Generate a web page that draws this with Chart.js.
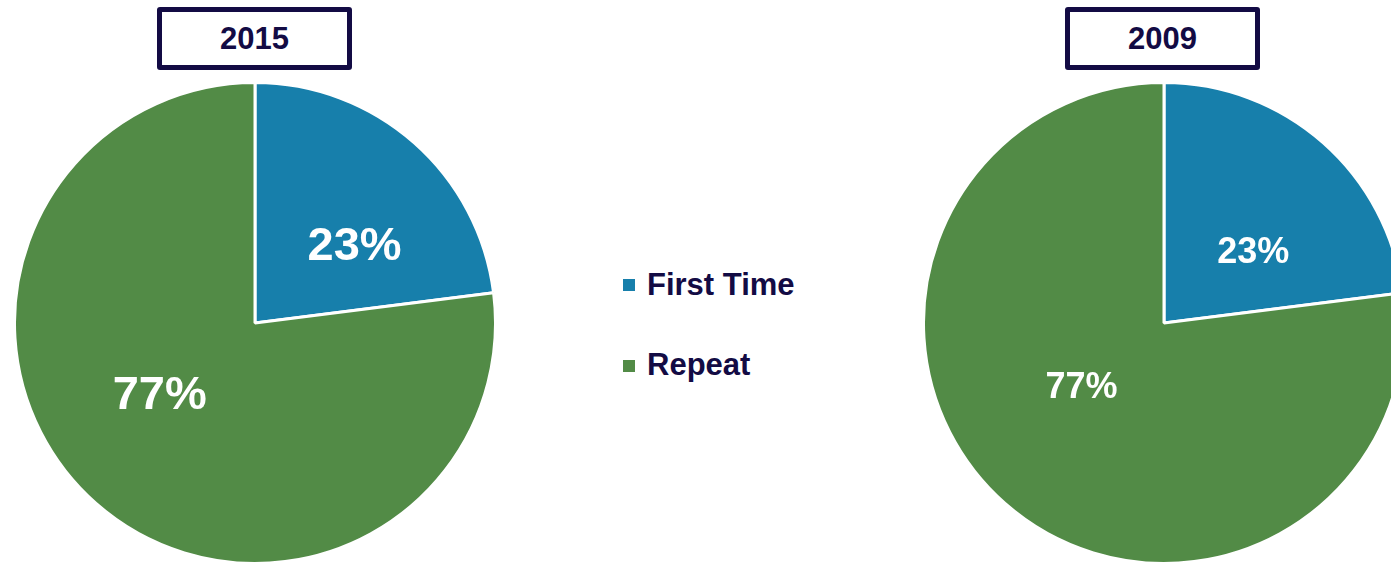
<!DOCTYPE html>
<html>
<head>
<meta charset="utf-8">
<script src="https://cdn.jsdelivr.net/npm/chart.js@4/dist/chart.umd.min.js"></script>
<style>
  html, body { margin: 0; padding: 0; background: #fff; }
  body { width: 1391px; height: 562px; overflow: hidden; position: relative;
         font-family: "Liberation Sans", Arial, sans-serif; }
  .pie { position: absolute; width: 484px; height: 484px; }
  .yearBox { position: absolute; top: 7px; width: 185px; height: 53px;
             border: 5px solid #130b44; border-radius: 3px;
             display: flex; align-items: center; justify-content: center;
             font-weight: bold; font-size: 31px; color: #130b44; }
  .legendItem { position: absolute; left: 623px; height: 31px; line-height: 31px;
                font-weight: bold; font-size: 31px; color: #130b44; white-space: nowrap; }
  .legendItem span { position: absolute; left: 0; width: 12px; height: 12px; }
  .legendItem b { position: absolute; left: 24px; top: 0; }
</style>
</head>
<body>

<div class="yearBox" style="left:157px" id="year0"></div>
<div class="yearBox" style="left:1065px" id="year1"></div>

<div class="pie" style="left:13px; top:81px"><canvas id="pie2015"></canvas></div>
<div class="pie" style="left:922px; top:81px"><canvas id="pie2009"></canvas></div>

<div id="legend"></div>

<script>
// data
var categories = ['First Time', 'Repeat'];
var years = ['2015', '2009'];
var share2015 = [23, 77];
var share2009 = [23, 77];

var colors = ['#177fab', '#528b46'];

// white percentage labels inside each slice
var sliceLabels = {
    id: 'sliceLabels',
    afterDatasetsDraw: function(chart, args, opts) {
        var ctx = chart.ctx;
        var meta = chart.getDatasetMeta(0);
        var values = chart.data.datasets[0].data;
        ctx.save();
        ctx.fillStyle = '#ffffff';
        ctx.font = 'bold ' + opts.size + 'px "Liberation Sans", Arial, sans-serif';
        ctx.textAlign = 'center';
        ctx.textBaseline = 'alphabetic';
        meta.data.forEach(function(arc, i) {
            var p = arc.getProps(['x', 'y', 'startAngle', 'endAngle', 'outerRadius'], true);
            var angle = (p.startAngle + p.endAngle) / 2 + opts.shift[i] * Math.PI / 180;
            var r = p.outerRadius * opts.dist[i];
            var x = p.x + Math.cos(angle) * r;
            var y = p.y + Math.sin(angle) * r;
            ctx.fillText(values[i] + '%', x, y + opts.size * 0.358);
        });
        ctx.restore();
    }
};

function makePie(id, values, labelOpts) {
    var ctx = document.getElementById(id).getContext('2d');
    return new Chart(ctx, {
        type: 'pie',
        data: {
            labels: categories,
            datasets: [{
                data: values,
                backgroundColor: colors,
                borderColor: '#ffffff',
                borderWidth: 3
            }]
        },
        options: {
            responsive: true,
            maintainAspectRatio: false,
            animation: false,
            layout: { padding: 0 },
            plugins: {
                legend: { display: false },
                tooltip: { enabled: false },
                sliceLabels: labelOpts
            }
        },
        plugins: [sliceLabels]
    });
}

makePie('pie2015', share2015, { size: 47, dist: [0.53, 0.49], shift: [10, 12.6] });
makePie('pie2009', share2009, { size: 36, dist: [0.48, 0.43], shift: [9.2, 11.6] });

document.getElementById('year0').textContent = years[0];
document.getElementById('year1').textContent = years[1];

// legend down the middle
var legend = document.getElementById('legend');
var rowTops = [269, 349];
categories.forEach(function(name, i) {
    var item = document.createElement('div');
    item.className = 'legendItem';
    item.style.top = rowTops[i] + 'px';
    item.innerHTML = '<span style="background:' + colors[i] + '; top:' + (i == 0 ? 10 : 11) + 'px"></span><b>' + name + '</b>';
    legend.appendChild(item);
});
</script>
</body>
</html>
